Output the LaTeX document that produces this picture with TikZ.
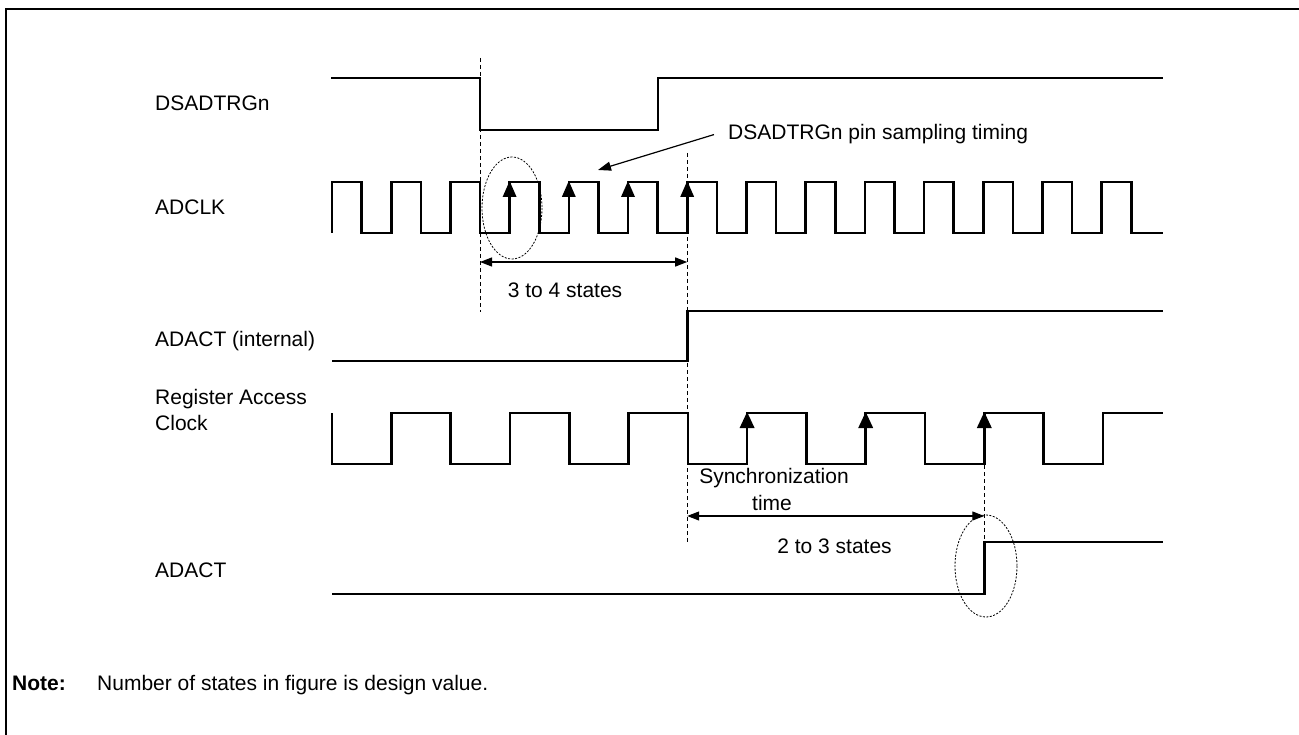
\documentclass[tikz,border=0pt]{standalone}
\usepackage{fontspec}
\setmainfont{Liberation Sans}
\usetikzlibrary{arrows.meta}
\begin{document}
\begin{tikzpicture}[x=1pt,y=-1pt,
  sig/.style={line width=2.6pt,line join=miter,line cap=butt},
  frame/.style={line width=2.6pt},
  guide/.style={line width=0.9pt,dash pattern=on 4pt off 3pt},
  oval/.style={line width=0.8pt,dash pattern=on 2pt off 1.5pt},
  dim/.style={line width=1.2pt,{Triangle[length=12pt,width=9pt]}-{Triangle[length=12pt,width=9pt]}},
  ptr/.style={line width=1.2pt,-{Triangle[length=13pt,width=9pt]}},
  lbl/.style={anchor=base west,inner sep=0pt,font=\fontsize{21}{26}\selectfont,align=left},
  txt/.style={anchor=base,inner sep=0pt,font=\fontsize{21}{26}\selectfont},
  edgearrow/.style={fill=black}
]
\useasboundingbox (0,0) rectangle (1299,735);
% frame
\draw[frame] (6,736) -- (6,9) -- (1300,9);

% labels
\node[lbl] (lDS) at (155,111) {DSADTRGn};
\node[lbl] (lCK) at (155,215) {ADCLK};
\node[lbl] (lAI) at (155,347) {ADACT (internal)};
\node[lbl] (lRC) at (155,430) {Register Access\\Clock};
\node[lbl] (lAD) at (155,577) {ADACT};

% DSADTRGn
\draw[sig] (331,78) -- (480,78) -- (480,130) -- (658,130) -- (658,78) -- (1163,78);

% ADCLK
\draw[sig] (332,233)
  \foreach \k in {0,...,13} {
    -- ({332+59.2*\k},182) -- ({361.6+59.2*\k},182)
    -- ({361.6+59.2*\k},233) -- ({391.2+59.2*\k},233) }
  -- (1163,233);
\foreach \k in {3,4,5,6} {
  \fill ({332+59.2*\k},181) -- ({332+59.2*\k-7},197) -- ({332+59.2*\k+7},197) -- cycle;
}

% ADACT (internal)
\draw[sig] (332,361) -- (687.2,361) -- (687.2,311) -- (1163,311);

% Register access clock
\draw[sig] (332,413) -- (332,464)
  \foreach \k in {0,...,5} {
    -- ({332+59.3*(2*\k+1)},464) -- ({332+59.3*(2*\k+1)},413)
    -- ({332+59.3*(2*\k+2)},413) -- ({332+59.3*(2*\k+2)},464) }
  -- ({332+59.3*13},464) -- ({332+59.3*13},413) -- (1163,413);
\foreach \n in {7,9,11} {
  \fill ({332+59.3*\n},412) -- ({332+59.3*\n-7.5},428) -- ({332+59.3*\n+7.5},428) -- cycle;
}

% ADACT
\draw[sig] (332,594) -- (984.3,594) -- (984.3,542) -- (1163,542);

% guide lines
\coordinate (g1t) at (480,58);   \coordinate (g1b) at (480,312);
\coordinate (g2t) at (687.2,153); \coordinate (g2b) at (687.2,543);
\coordinate (g3t) at (984.3,465); \coordinate (g3b) at (984.3,542);
\draw[guide] (g1t) -- (g1b);
\draw[guide] (g2t) -- (g2b);
\draw[guide] (g3t) -- (g3b);

% ovals
\draw[oval] (512,208) ellipse [x radius=30, y radius=51];
\draw[oval] (986,566) ellipse [x radius=31, y radius=51];

% dimension arrows
\coordinate (d1a) at (480,262); \coordinate (d1b) at (687.2,262);
\draw[dim] (d1a) -- (d1b);
\node[txt] (t34) at (565,298) {3 to 4 states};
\coordinate (d2a) at (687.2,516); \coordinate (d2b) at (984.3,516);
\draw[dim] (d2a) -- (d2b);
\node[txt] (tsync) at (774,483) {Synchronization};
\node[txt] (ttime) at (772,510) {time};
\node[txt] (t23) at (834.5,553) {2 to 3 states};

% sampling annotation
\node[lbl] (samp) at (728,140) {DSADTRGn pin sampling timing};
\coordinate (sampt) at (598,170);
\draw[ptr] ([xshift=-14pt,yshift=0pt]samp.west) -- (sampt);

% note
\node[lbl,font=\fontsize{21}{26}\selectfont\bfseries] (note) at (12,690) {Note:};
\node[lbl] (notetxt) at (97,690) {Number of states in figure is design value.};
\end{tikzpicture}
\end{document}
